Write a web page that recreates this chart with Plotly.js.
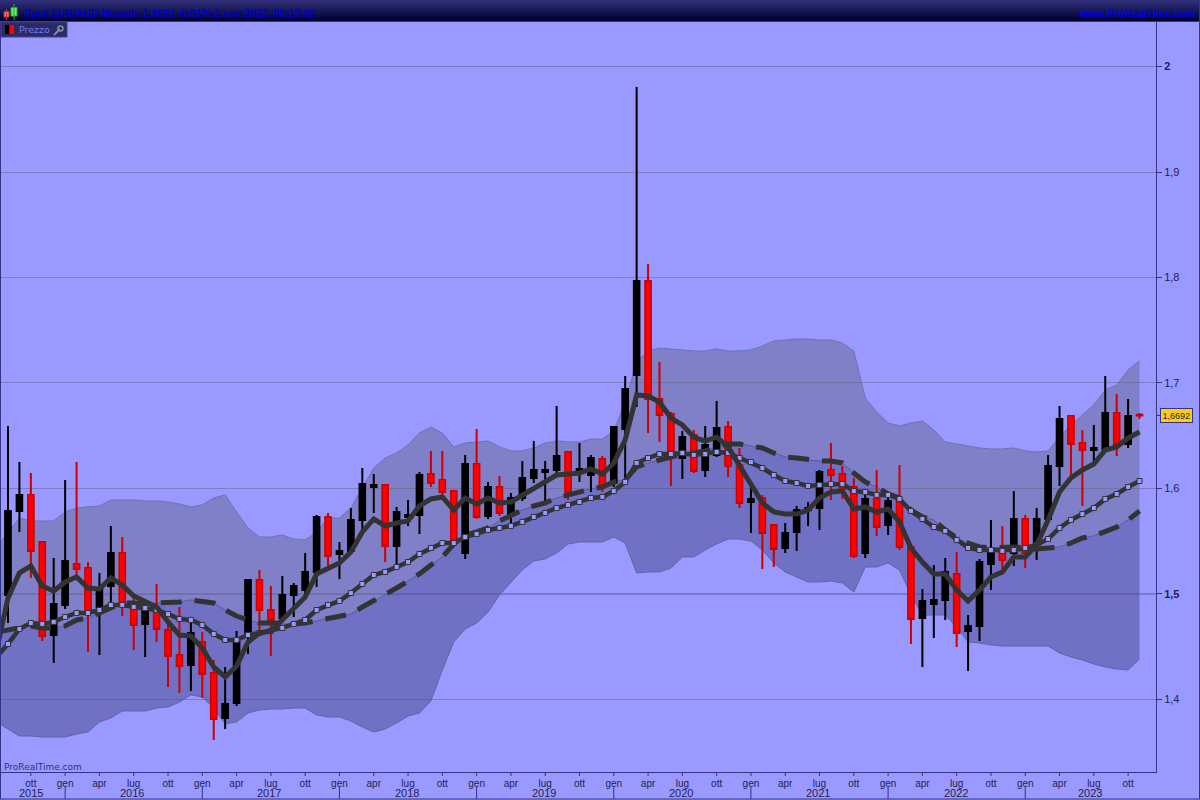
<!DOCTYPE html>
<html><head><meta charset="utf-8">
<script src="https://cdn.plot.ly/plotly-3.0.0.min.js"></script>
<style>html,body{margin:0;padding:0;background:#9999ff;overflow:hidden}#c{width:1200px;height:800px}</style>
</head><body><div id="c"></div>
<script>
const opens=[1.4991,1.5787,1.5939,1.5493,1.4611,1.4896,1.5284,1.5246,1.4877,1.5076,1.5389,1.4867,1.4716,1.4867,1.4659,1.4422,1.4327,1.4545,1.4251,1.3824,1.3967,1.4630,1.5133,1.4848,1.4772,1.4991,1.5038,1.5209,1.5730,1.5379,1.5408,1.5702,1.6014,1.6033,1.5455,1.5730,1.5749,1.6138,1.6081,1.5976,1.5389,1.6232,1.5739,1.6014,1.5749,1.5910,1.6100,1.6157,1.6176,1.6346,1.6166,1.6128,1.6280,1.6052,1.6564,1.7076,1.7967,1.6849,1.6706,1.6289,1.6507,1.6176,1.6318,1.6583,1.6223,1.5872,1.5910,1.5654,1.5436,1.5588,1.5796,1.5815,1.6176,1.6138,1.6014,1.5389,1.5901,1.5654,1.5882,1.5446,1.4772,1.4905,1.4943,1.5190,1.4649,1.4697,1.5284,1.5417,1.5389,1.5711,1.5417,1.5711,1.6213,1.6687,1.6431,1.6365,1.6375,1.6716,1.6422,1.6700];
const highs=[1.6593,1.6251,1.6147,1.5502,1.5341,1.6081,1.6251,1.5303,1.5199,1.5645,1.5540,1.4972,1.4943,1.5095,1.4772,1.4877,1.4735,1.4640,1.4374,1.4308,1.4649,1.5133,1.5228,1.5076,1.5171,1.5104,1.5389,1.5749,1.5768,1.5493,1.5815,1.6194,1.6138,1.6043,1.5825,1.5891,1.6157,1.6356,1.6356,1.5986,1.6318,1.6564,1.6062,1.6119,1.5957,1.6261,1.6450,1.6261,1.6782,1.6356,1.6431,1.6318,1.6308,1.6593,1.7067,1.9806,1.8128,1.7199,1.6725,1.6545,1.6555,1.6593,1.6830,1.6640,1.6384,1.6024,1.5939,1.5664,1.5673,1.5834,1.5872,1.6176,1.6431,1.6213,1.6100,1.5939,1.6176,1.5920,1.6223,1.5446,1.5047,1.5275,1.5341,1.5398,1.4801,1.5332,1.5702,1.5645,1.5976,1.5749,1.5815,1.6318,1.6782,1.6687,1.6555,1.6602,1.7067,1.6896,1.6849,1.6715];
const lows=[1.4725,1.5588,1.5152,1.4554,1.4346,1.4858,1.5161,1.4450,1.4422,1.4915,1.4791,1.4469,1.4403,1.4545,1.4118,1.4061,1.4080,1.4014,1.3616,1.3720,1.3938,1.4431,1.4659,1.4412,1.4754,1.4782,1.4962,1.5066,1.5265,1.5142,1.5389,1.5607,1.5768,1.5303,1.5275,1.5645,1.5569,1.6014,1.5939,1.5465,1.5332,1.5711,1.5711,1.5739,1.5673,1.5882,1.6052,1.5882,1.6138,1.5891,1.6062,1.5967,1.5967,1.6014,1.6081,1.6773,1.6526,1.6441,1.6024,1.6090,1.6147,1.6109,1.6299,1.6109,1.5815,1.5578,1.5237,1.5256,1.5389,1.5408,1.5645,1.5607,1.5891,1.5901,1.5341,1.5341,1.5550,1.5559,1.5417,1.4526,1.4308,1.4583,1.4754,1.4498,1.4270,1.4554,1.5038,1.5237,1.5265,1.5246,1.5322,1.5702,1.6024,1.6128,1.5834,1.6242,1.6375,1.6308,1.6384,1.6660];
const closes=[1.5787,1.5939,1.5408,1.4602,1.4905,1.5313,1.5237,1.4829,1.5057,1.5389,1.4915,1.4706,1.4839,1.4668,1.4412,1.4317,1.4630,1.4242,1.3815,1.3957,1.4545,1.5133,1.4848,1.4754,1.4991,1.5076,1.5209,1.5730,1.5360,1.5408,1.5702,1.6043,1.6033,1.5455,1.5777,1.5749,1.6128,1.6052,1.5967,1.5493,1.6232,1.5730,1.6014,1.5768,1.5910,1.6100,1.6176,1.6176,1.6308,1.5967,1.6185,1.6289,1.6014,1.6583,1.6943,1.7967,1.6849,1.6697,1.6346,1.6488,1.6166,1.6413,1.6574,1.6213,1.5863,1.5901,1.5578,1.5427,1.5578,1.5796,1.5815,1.6157,1.6128,1.5995,1.5360,1.5901,1.5635,1.5882,1.5446,1.4763,1.4934,1.4943,1.5209,1.4630,1.4697,1.5303,1.5417,1.5322,1.5711,1.5389,1.5711,1.6213,1.6659,1.6422,1.6365,1.6384,1.6716,1.6413,1.6687,1.6692];
const maShort=[1.4469,1.4962,1.5199,1.5265,1.5076,1.5028,1.5114,1.5161,1.5057,1.5047,1.5152,1.5085,1.4981,1.4934,1.4877,1.4735,1.4611,1.4602,1.4488,1.4308,1.4213,1.4317,1.4545,1.4630,1.4649,1.4754,1.4867,1.4972,1.5190,1.5246,1.5294,1.5398,1.5588,1.5711,1.5645,1.5673,1.5692,1.5834,1.5901,1.5920,1.5796,1.5910,1.5853,1.5910,1.5863,1.5872,1.5939,1.6005,1.6062,1.6128,1.6138,1.6147,1.6185,1.6138,1.6242,1.6460,1.6887,1.6877,1.6820,1.6668,1.6602,1.6488,1.6450,1.6488,1.6394,1.6223,1.6052,1.5863,1.5777,1.5758,1.5758,1.5796,1.5910,1.5967,1.5976,1.5806,1.5825,1.5777,1.5806,1.5683,1.5436,1.5303,1.5190,1.5190,1.5038,1.4934,1.5038,1.5161,1.5209,1.5351,1.5351,1.5465,1.5702,1.5967,1.6100,1.6176,1.6232,1.6365,1.6394,1.6479,1.6536];
const maMid=[1.4403,1.4526,1.4668,1.4725,1.4716,1.4735,1.4782,1.4820,1.4820,1.4848,1.4896,1.4896,1.4877,1.4867,1.4848,1.4810,1.4763,1.4754,1.4706,1.4621,1.4564,1.4564,1.4611,1.4630,1.4649,1.4678,1.4716,1.4754,1.4848,1.4896,1.4934,1.5009,1.5095,1.5180,1.5209,1.5256,1.5303,1.5379,1.5436,1.5483,1.5483,1.5540,1.5569,1.5607,1.5626,1.5645,1.5683,1.5730,1.5768,1.5815,1.5844,1.5872,1.5910,1.5920,1.5976,1.6062,1.6242,1.6289,1.6327,1.6327,1.6337,1.6318,1.6327,1.6346,1.6337,1.6289,1.6251,1.6194,1.6128,1.6071,1.6052,1.6024,1.6033,1.6043,1.6043,1.5976,1.5967,1.5939,1.5939,1.5901,1.5787,1.5711,1.5635,1.5597,1.5512,1.5436,1.5417,1.5417,1.5408,1.5417,1.5436,1.5465,1.5521,1.5626,1.5702,1.5758,1.5815,1.5901,1.5948,1.6014,1.6071];
const maLong=[1.4640,1.4659,1.4687,1.4697,1.4678,1.4678,1.4697,1.4754,1.4772,1.4820,1.4877,1.4915,1.4915,1.4905,1.4915,1.4915,1.4924,1.4943,1.4934,1.4915,1.4848,1.4791,1.4754,1.4725,1.4725,1.4716,1.4716,1.4725,1.4744,1.4772,1.4782,1.4810,1.4877,1.4934,1.4991,1.5057,1.5123,1.5190,1.5275,1.5351,1.5474,1.5559,1.5588,1.5626,1.5692,1.5749,1.5796,1.5834,1.5863,1.5910,1.5939,1.5976,1.5995,1.6014,1.6062,1.6081,1.6204,1.6242,1.6270,1.6289,1.6327,1.6337,1.6356,1.6394,1.6422,1.6422,1.6403,1.6384,1.6337,1.6299,1.6289,1.6270,1.6261,1.6261,1.6242,1.6147,1.6062,1.6014,1.5948,1.5910,1.5796,1.5730,1.5702,1.5607,1.5531,1.5483,1.5446,1.5436,1.5446,1.5446,1.5436,1.5427,1.5436,1.5446,1.5483,1.5531,1.5550,1.5597,1.5635,1.5702,1.5787];
const bandUpper=[1.5436,1.5588,1.5720,1.5692,1.5692,1.5692,1.5777,1.5815,1.5825,1.5834,1.5891,1.5891,1.5891,1.5882,1.5882,1.5872,1.5853,1.5825,1.5844,1.5910,1.5939,1.5777,1.5626,1.5540,1.5540,1.5559,1.5521,1.5512,1.5588,1.5720,1.5720,1.5815,1.6005,1.6194,1.6289,1.6337,1.6413,1.6526,1.6583,1.6526,1.6394,1.6431,1.6441,1.6450,1.6394,1.6356,1.6356,1.6384,1.6431,1.6450,1.6441,1.6441,1.6469,1.6469,1.6545,1.6820,1.7199,1.7304,1.7332,1.7323,1.7313,1.7304,1.7304,1.7323,1.7304,1.7304,1.7313,1.7351,1.7398,1.7408,1.7417,1.7417,1.7408,1.7408,1.7379,1.7304,1.6858,1.6725,1.6621,1.6593,1.6621,1.6640,1.6555,1.6441,1.6422,1.6403,1.6384,1.6375,1.6375,1.6384,1.6356,1.6346,1.6356,1.6488,1.6602,1.6697,1.6792,1.6934,1.6981,1.7124,1.7209];
const bandLower=[1.3787,1.3720,1.3654,1.3654,1.3644,1.3644,1.3644,1.3673,1.3692,1.3787,1.3824,1.3891,1.3891,1.3891,1.3919,1.3929,1.3976,1.4043,1.4024,1.3919,1.3768,1.3787,1.3872,1.3900,1.3910,1.3910,1.3919,1.3919,1.3853,1.3834,1.3834,1.3796,1.3739,1.3692,1.3720,1.3777,1.3843,1.3872,1.3986,1.4280,1.4545,1.4668,1.4725,1.4829,1.4991,1.5114,1.5228,1.5313,1.5332,1.5389,1.5474,1.5493,1.5493,1.5493,1.5540,1.5483,1.5199,1.5209,1.5209,1.5246,1.5351,1.5351,1.5417,1.5474,1.5521,1.5521,1.5502,1.5417,1.5294,1.5209,1.5161,1.5114,1.5114,1.5123,1.5104,1.5019,1.5256,1.5256,1.5294,1.5228,1.4991,1.4801,1.4801,1.4801,1.4687,1.4545,1.4535,1.4517,1.4507,1.4507,1.4507,1.4507,1.4507,1.4441,1.4403,1.4374,1.4336,1.4308,1.4289,1.4280,1.4384];
const monthTicks=[2,5,8,11,14,17,20,23,26,29,32,35,38,41,44,47,50,53,56,59,62,65,68,71,74,77,80,83,86,89,92,95,98];
const monthLabels=['ott','gen','apr','lug','ott','gen','apr','lug','ott','gen','apr','lug','ott','gen','apr','lug','ott','gen','apr','lug','ott','gen','apr','lug','ott','gen','apr','lug','ott','gen','apr','lug','ott'];
const yearLabels=['2015','2016','2017','2018','2019','2020','2021','2022','2023'];
const yearPositions=[2,10.85,22.85,34.9,46.9,58.9,70.9,82.9,94.65];
const yearStarts=[5,17,29,41,53,65,77,89];
const priceTicks=[1.4,1.5,1.6,1.7,1.8,1.9,2];
const priceLabels=['1,4','<b>1,5</b>','1,6','1,7','1,8','1,9','<b>2</b>'];
const strongLevels=[1.5,2];
const lastPrice=1.6692;
const titleText='Spot EUR/AUD Mensile 1,6692 -0,01% 1 nov 2023, 06:13:02';

const candleX=opens.map((_,i)=>i);
const lineX=maShort.map((_,i)=>i-1);
const X=p=>(p-1)/1155, Y=p=>(773-p)/751;
const NAVY='#333388', DARK='#333333';
const BLACK='#000000', RED='#ff0000', DRED='#cc0000';
const xRange=[-0.612,100.44], yRange=[1.3303,2.0422];

const hoverOff={hoverinfo:'skip',showlegend:false};
const over={xaxis:'x2',yaxis:'y2'};
const traces=[
 {x:lineX,y:bandLower,type:'scatter',mode:'lines',line:{color:'#6262a8',width:1},...hoverOff},
 {x:lineX,y:maLong,type:'scatter',mode:'lines',line:{color:'#5a5aa0',width:1},fill:'tonexty',fillcolor:'rgba(71,71,137,0.5)',...hoverOff},
 {x:lineX,y:bandUpper,type:'scatter',mode:'lines',line:{color:'#7070b8',width:1},fill:'tonexty',fillcolor:'rgba(103,103,145,0.5)',...hoverOff},
 {x:candleX,open:opens,high:highs,low:lows,close:closes,type:'candlestick',whiskerwidth:0,...over,
  increasing:{line:{color:BLACK,width:2},fillcolor:BLACK},decreasing:{line:{color:DRED,width:2},fillcolor:DRED},...hoverOff},
 {x:candleX,open:opens,close:closes,...over,
  high:opens.map((o,i)=>Math.max(o,closes[i])),low:opens.map((o,i)=>Math.min(o,closes[i])),
  type:'candlestick',whiskerwidth:0,
  increasing:{line:{color:BLACK,width:1},fillcolor:BLACK},decreasing:{line:{color:DRED,width:1},fillcolor:RED},...hoverOff},
 {x:lineX,y:maLong,type:'scatter',mode:'lines',...over,line:{color:DARK,width:5,dash:'21px,13px'},...hoverOff},
 {x:lineX,y:maMid,type:'scatter',mode:'lines+markers',...over,line:{color:DARK,width:4.5},
  marker:{symbol:'square',size:5,color:'#9999ff',line:{color:DARK,width:1}},...hoverOff},
 {x:lineX,y:maShort,type:'scatter',mode:'lines',...over,line:{color:DARK,width:5},...hoverOff}
];

const shapes=[];
const paperRect=(x0,y0,x1,y1,fill,lineColor,layer)=>shapes.push({type:'rect',xref:'paper',yref:'paper',x0:X(x0),x1:X(x1),y0:Y(y0),y1:Y(y1),fillcolor:fill,line:{color:lineColor||fill,width:lineColor?1:0},layer:layer||'above'});
const paperLine=(x0,y0,x1,y1,color,w)=>shapes.push({type:'line',xref:'paper',yref:'paper',x0:X(x0),x1:X(x1),y0:Y(y0),y1:Y(y1),line:{color,width:w||1},layer:'above'});
// header gradient
const gradTop=[48,48,122], gradBot=[0,0,50];
for(let r=0;r<21;r++){const t=r/20;const c=gradTop.map((v,k)=>Math.round(v+(gradBot[k]-v)*t));
  paperRect(0,r,1200,r+1,`rgb(${c})`);}
paperLine(0,21.5,1200,21.5,NAVY,1);
// header icon
paperRect(4,11.5,9,17,'#ee7777','#aa3333');paperLine(6.5,9,6.5,20,'#cc3333',1);
paperRect(11,7.5,17,16,'#66ee66','#22aa22');paperLine(14,4,14,20,'#22aa22',1);
// legend tab
paperRect(1,22,67,37,'#2a2a66','#444488');
paperRect(5,25,9.5,34,'#000000');paperRect(9.5,25,14,34,'#ff0000');
paperLine(54,35,60,29,'#8888aa',2);
shapes.push({type:'circle',xref:'paper',yref:'paper',x0:X(58),x1:X(63),y0:Y(31),y1:Y(26),line:{color:'#8888aa',width:1.5},fillcolor:'rgba(0,0,0,0)',layer:'above'});
// frame
paperLine(0.5,22,0.5,799,NAVY,1);
paperLine(0,799,1200,799,NAVY,1);
paperLine(1199.5,0,1199.5,799,NAVY,1);
paperLine(1156.5,22,1156.5,773,NAVY,1);
paperLine(0,772.5,1157,772.5,NAVY,1);
// strong levels
strongLevels.forEach(v=>shapes.push({type:'line',xref:'paper',yref:'y',x0:0,x1:1,y0:v,y1:v,line:{color:'#555588',width:1},layer:'below'}));
// last price tick
shapes.push({type:'line',xref:'paper',yref:'y',x0:1,x1:X(1161),y0:lastPrice,y1:lastPrice,line:{color:NAVY,width:1},layer:'above'});
// month ticks and year separators
monthTicks.forEach(i=>shapes.push({type:'line',xref:'x',yref:'paper',x0:i,x1:i,y0:Y(773),y1:Y(776),line:{color:NAVY,width:1},layer:'above'}));
yearStarts.forEach(i=>shapes.push({type:'line',xref:'x',yref:'paper',x0:i,x1:i,y0:Y(787),y1:Y(799),line:{color:NAVY,width:1},layer:'above'}));

const ann=(text,x,y,size,color,anchor,opt)=>Object.assign({text,xref:'paper',yref:'paper',x:X(x),y:Y(y),xanchor:anchor||'left',yanchor:'middle',showarrow:false,
  font:{family:'Liberation Sans, Arial, sans-serif',size,color},borderpad:0},opt||{});
const annotations=[
 ann('<b>'+titleText+'</b>',23,12.5,10.5,'#0000cc','left'),
 ann('<b>www.ProRealTime.com</b>',1197,12.5,10.5,'#0000ee','right'),
 ann('Prezzo',18,29.5,10,'#7777ee','left',{font:{family:'DejaVu Sans, sans-serif',size:9.5,color:'#7777ee'}}),
 ann('ProRealTime.com',3,767,9,'#333377','left',{font:{family:'DejaVu Sans, sans-serif',size:9,color:'#333377'}}),
 ann(lastPrice.toFixed(4).replace('.',','),1177,416,9,'#222255','center',{bgcolor:'#ffcc11',bordercolor:NAVY,borderwidth:1,borderpad:1.5}),
 ...yearLabels.map((t,i)=>({text:t,xref:'x',yref:'paper',x:yearPositions[i],y:Y(792.5),xanchor:'center',yanchor:'middle',showarrow:false,
   font:{family:'Liberation Sans, Arial, sans-serif',size:11,color:'#222255'}}))
];

const layout={
 width:1200,height:800,autosize:false,showlegend:false,dragmode:false,hovermode:false,
 margin:{l:1,r:44,t:22,b:27,pad:0},
 paper_bgcolor:'#9999ff',plot_bgcolor:'#9999ff',
 boxgap:0.3,
 xaxis:{type:'linear',range:xRange,tickmode:'array',tickvals:monthTicks,ticktext:monthLabels,
  ticks:'outside',ticklen:1,tickcolor:'rgba(0,0,0,0)',showgrid:false,zeroline:false,showline:false,
  tickfont:{family:'Liberation Sans, Arial, sans-serif',size:10,color:'#222255'},rangeslider:{visible:false},fixedrange:true},
 yaxis:{type:'linear',side:'right',range:yRange,tickmode:'array',tickvals:priceTicks,ticktext:priceLabels,
  ticks:'outside',ticklen:5,tickcolor:NAVY,tickwidth:1,showgrid:true,gridcolor:'#7d7dc0',gridwidth:1,zeroline:false,showline:false,
  tickfont:{family:'Liberation Sans, Arial, sans-serif',size:11,color:'#222255'},fixedrange:true},
 xaxis2:{type:'linear',overlaying:'x',range:xRange,visible:false,showgrid:false,zeroline:false,rangeslider:{visible:false},fixedrange:true},
 yaxis2:{type:'linear',overlaying:'y',range:yRange,visible:false,showgrid:false,zeroline:false,fixedrange:true},
 shapes,annotations
};
Plotly.newPlot('c',traces,layout,{displayModeBar:false,staticPlot:true});
</script></body></html>
